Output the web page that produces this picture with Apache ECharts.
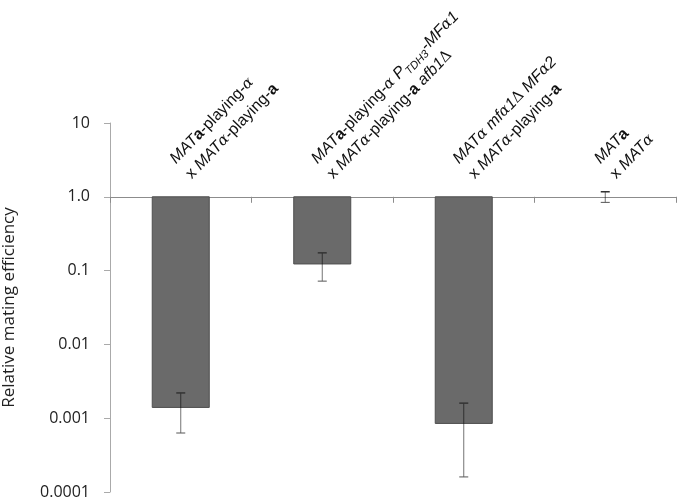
<!DOCTYPE html>
<html>
<head>
<meta charset="utf-8">
<script src="https://cdn.jsdelivr.net/npm/echarts@6/dist/echarts.min.js"></script>
<style>html,body{margin:0;padding:0;background:#fff;}#c{width:677px;height:499px;}</style>
</head>
<body>
<div id="c"></div>
<script>
// ---- data ----
var categories = [
  "MATa-playing-α x MATα-playing-a",
  "MATa-playing-α PTDH3-MFα1 x MATα-playing-a afb1Δ",
  "MATα mfα1Δ MFα2 x MATα-playing-a",
  "MATa x MATα"
];
var categoryLabels = [
  "{i|MAT}{b|a}{n|-playing-}{g|α}\n{n|x }{i|MAT}{g|α}{n|-playing-}{b|a}",
  "{i|MAT}{b|a}{n|-playing-}{g|α}{n| }{i|P}{s|TDH3}{i|-MF}{g|α}{i|1}\n{n|x }{i|MAT}{g|α}{n|-playing-}{b|a}{n| }{i|afb1}{gn|Δ}",
  "{i|MAT}{g|α}{n| }{i|mf}{g|α}{i|1}{gn|Δ}{n| }{i|MF}{g|α}{i|2}\n{n|x }{i|MAT}{g|α}{n|-playing-}{b|a}",
  "{i|MAT}{b|a}\n{n|x }{i|MAT}{g|α}"
];
var efficiency = [0.0014, 0.123, 0.00085, 1.0];
var errLow = [0.00063, 0.072, 0.00016, 0.84];
var errHigh = [0.0022, 0.174, 0.0016, 1.17];
var baseline = 1.0;
var yTickValues = [10, 1, 0.1, 0.01, 0.001, 0.0001];
var yTickLabels = ["10", "1.0", "0.1", "0.01", "0.001", "0.0001"];
var yTitle = "Relative mating efficiency";

// ---- chart ----
var chart = echarts.init(document.getElementById('c'), null, {renderer: 'canvas'});
var gridTop = 123, gridBottom = 7, H = 499;
var gridH = H - gridTop - gridBottom;
var offsetToBaseline = gridH * (Math.log10(10) - Math.log10(baseline)) / (Math.log10(10) - Math.log10(0.0001));

var labelFont = 'Liberation Sans';
var rich = {
  n: {fontFamily: labelFont, fontSize: 16, color: '#111'},
  i: {fontFamily: labelFont, fontSize: 16, fontStyle: 'italic', color: '#111'},
  b: {fontFamily: labelFont, fontSize: 16, fontWeight: 'bold', color: '#111'},
  g: {fontFamily: 'DejaVu Serif', fontSize: 15, fontStyle: 'italic', color: '#111'},
  gn: {fontFamily: 'DejaVu Serif', fontSize: 15, color: '#111'},
  s: {fontFamily: labelFont, fontSize: 11, fontStyle: 'italic', color: '#111', verticalAlign: 'bottom', padding: [6, 0, 0, 0]}
};

var barData = categories.map(function (c, i) { return [i, efficiency[i]]; });
var errData = categories.map(function (c, i) { return [i, errLow[i], errHigh[i]]; });

chart.setOption({
  animation: false,
  grid: {left: 110, right: 1, top: gridTop, bottom: gridBottom, containLabel: false, outerBoundsMode: 'none'},
  xAxis: {
    type: 'category',
    data: categories,
    position: 'top',
    offset: -offsetToBaseline,
    boundaryGap: true,
    axisLine: {show: true, lineStyle: {color: '#8c8c8c', width: 1}},
    axisTick: {show: true, inside: true, length: 6, alignWithLabel: false, lineStyle: {color: '#8c8c8c'}},
    axisLabel: {
      interval: 0,
      rotate: -46,
      margin: 28,
      lineHeight: 22,
      hideOverlap: false,
      formatter: function (v, idx) { return categoryLabels[idx]; },
      rich: rich
    },
    splitLine: {show: false}
  },
  yAxis: {
    type: 'log',
    logBase: 10,
    min: 0.0001,
    max: 10,
    name: yTitle,
    nameLocation: 'middle',
    nameRotate: 90,
    nameGap: 92,
    nameTextStyle: {fontFamily: 'Open Sans', fontSize: 17, color: '#222'},
    axisLine: {show: true, lineStyle: {color: '#aaaaaa', width: 1}},
    axisTick: {show: true, length: 6, lineStyle: {color: '#aaaaaa'}},
    axisLabel: {
      margin: 20,
      fontFamily: 'Open Sans',
      fontSize: 16,
      color: '#222',
      formatter: function (v) {
        for (var k = 0; k < yTickValues.length; k++) {
          if (Math.abs(Math.log10(v) - Math.log10(yTickValues[k])) < 1e-6) return yTickLabels[k];
        }
        return '';
      }
    },
    splitLine: {show: false}
  },
  series: [
    {
      type: 'custom',
      clip: false,
      data: barData,
      renderItem: function (params, api) {
        var idx = api.value(0);
        var v = api.value(1);
        var p1 = api.coord([idx, v]);
        var p0 = api.coord([idx, baseline]);
        var bw = api.size([1, 0])[0] * 0.403;
        var h = p1[1] - p0[1];
        if (Math.abs(h) < 0.5) return null;
        return {
          type: 'rect',
          shape: {x: p0[0] - bw / 2, y: p0[1], width: bw, height: h},
          style: {fill: '#6a6a6a', stroke: '#4f4f4f', lineWidth: 1}
        };
      }
    },
    {
      type: 'custom',
      clip: false,
      data: errData,
      z: 5,
      renderItem: function (params, api) {
        var idx = api.value(0);
        var lo = api.coord([idx, api.value(1)]);
        var hi = api.coord([idx, api.value(2)]);
        var cw = 4.5;
        var st = {stroke: 'rgba(0,0,0,0.55)', lineWidth: 1};
        return {
          type: 'group',
          children: [
            {type: 'line', shape: {x1: lo[0], y1: lo[1], x2: hi[0], y2: hi[1]}, style: st},
            {type: 'line', shape: {x1: lo[0] - cw, y1: lo[1], x2: lo[0] + cw, y2: lo[1]}, style: {stroke: '#555', lineWidth: 1}},
            {type: 'line', shape: {x1: hi[0] - cw, y1: hi[1], x2: hi[0] + cw, y2: hi[1]}, style: {stroke: '#333', lineWidth: 1.5}}
          ]
        };
      }
    }
  ]
});
</script>
</body>
</html>
